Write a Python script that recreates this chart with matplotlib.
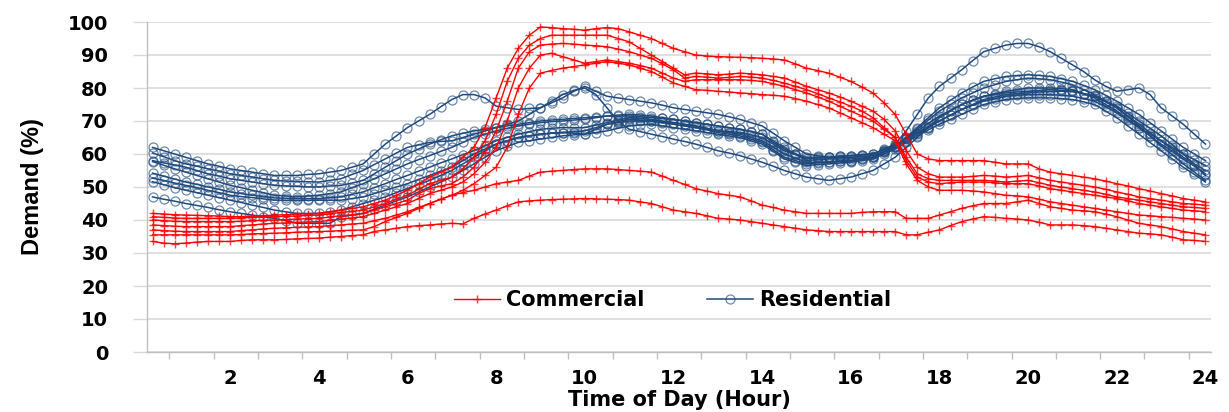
import matplotlib
matplotlib.use("Agg")
import matplotlib.pyplot as plt
import numpy as np

# 15-minute samples over one day (Excel category axis: 96 points)
hours = np.arange(1, 97) / 4

commercial_1 = [42, 41.8, 41.6, 41.5, 41.4, 41.3, 41.2, 41,
                41, 41.2, 41.3, 41.5, 41.6, 41.8, 41.9, 42,
                42.5, 43, 43.5, 44, 45, 46, 47.5, 49,
                51, 53, 54.5, 56, 59, 62, 68, 77,
                86, 92, 96, 98.5, 98.3, 98, 97.8, 97.5,
                98, 98.3, 98, 97, 96, 95, 93.5, 92,
                91, 90, 89.7, 89.5, 89.4, 89.3, 89.2, 89,
                88.8, 88.5, 87.3, 86, 85.3, 84.5, 83.3, 82,
                80.3, 78.5, 75.5, 72, 66, 60, 58.5, 58,
                58, 58, 58, 58, 57.5, 57, 57, 57,
                55.5, 54.5, 54, 53.5, 53, 52.5, 51.8, 51,
                50.3, 49.5, 48.8, 48, 47.3, 46.5, 46, 45.5]
commercial_2 = [41, 40.8, 40.6, 40.5, 40.5, 40.5, 40.5, 40.5,
                40.6, 40.8, 40.9, 41, 41.1, 41.2, 41.4, 41.5,
                41.9, 42.3, 42.6, 43, 44, 45, 46.3, 47.5,
                49.3, 51, 52, 53, 55.5, 59, 64, 72,
                82, 89, 93, 95, 96, 96, 96, 96,
                96, 96, 95, 94, 92, 90, 88, 86,
                84, 84.5, 84.3, 84, 84.2, 84.5, 84.3, 84,
                83.5, 83, 81.8, 80.5, 79.5, 78.5, 77.3, 76,
                74.5, 73, 70.5, 67, 61, 56, 54, 53,
                53, 53, 53.2, 53.5, 53.3, 53, 53.2, 53.5,
                52.8, 52, 51.5, 51, 50.5, 50, 49.3, 48.5,
                47.8, 47, 46.5, 46, 45.5, 45, 44.8, 44.5]
commercial_3 = [40, 39.8, 39.6, 39.5, 39.5, 39.5, 39.5, 39.5,
                39.6, 39.8, 39.9, 40, 40.1, 40.3, 40.4, 40.5,
                40.9, 41.3, 41.6, 42, 43, 44, 45, 46,
                48, 49.5, 50.3, 51, 53, 56, 60.5, 67,
                76, 86, 91, 93, 93.3, 93.5, 93.3, 93,
                92.8, 92.5, 91.8, 91, 90, 89, 87.3, 85.5,
                83, 83.5, 83.3, 83, 83.2, 83.5, 83.3, 83,
                82.3, 81.5, 80.5, 79.5, 78.3, 77, 75.8, 74.5,
                73, 71, 68, 65, 59, 54, 52.5, 52,
                52, 52, 52, 52, 51.8, 51.5, 51.8, 52,
                51.3, 50.5, 50, 49.5, 49, 48.5, 47.8, 47,
                46.5, 46, 45.5, 45, 44.5, 44, 43.8, 43.5]
commercial_4 = [38.5, 38.3, 38.1, 38, 38, 38, 38, 38,
                38.3, 38.5, 38.8, 39, 39.1, 39.3, 39.4, 39.5,
                39.9, 40.3, 40.6, 41, 42, 43, 44, 45,
                46.5, 48, 49, 50, 51.5, 54, 57.5, 62,
                70, 80, 86, 90, 90.5, 89.5, 88.5, 87.5,
                88, 88.5, 88, 87.5, 86.8, 86, 84.5, 83,
                82, 82.5, 82.5, 82.5, 82.5, 82.5, 82.3, 82,
                81.3, 80.5, 79.5, 78.5, 77.3, 76, 74.5, 73,
                71.5, 70, 67.5, 65, 58, 53, 51.5, 51,
                51.3, 51.5, 51.5, 51.5, 51.3, 51, 51, 51,
                50.3, 49.5, 49, 48.5, 48, 47.5, 47, 46.5,
                45.8, 45, 44.5, 44, 43.5, 43, 42.8, 42.5]
commercial_5 = [37, 36.8, 36.6, 36.5, 36.5, 36.5, 36.5, 36.5,
                36.8, 37, 37.3, 37.5, 37.6, 37.8, 37.9, 38,
                38.3, 38.5, 38.8, 39, 39.8, 40.5, 41.5, 42.5,
                43.8, 45, 46.3, 47.5, 49, 51, 53.5, 56,
                62, 72, 80, 84.5, 85.3, 86, 86.5, 87,
                87.5, 88, 87.5, 87, 86, 85, 83.3, 81.5,
                80.5, 79.5, 79.3, 79, 78.8, 78.5, 78.3, 78,
                77.8, 77.5, 76.8, 76, 75, 74, 72.5, 71,
                69.5, 68, 66, 64, 57, 52, 50, 49,
                49, 49, 48.8, 48.5, 48, 47.5, 47.3, 47,
                46.3, 45.5, 45, 44.5, 44, 43.5, 43, 42.5,
                42, 41.5, 41.3, 41, 40.8, 40.5, 40.3, 40]
commercial_6 = [35.5, 35.5, 35.5, 35.5, 35.5, 35.5, 35.5, 35.5,
                35.6, 35.8, 35.9, 36, 36.1, 36.3, 36.4, 36.5,
                36.6, 36.8, 36.9, 37, 38, 39.5, 40.8, 42,
                43.5, 45, 46.3, 47.5, 48.3, 49, 50, 51,
                51.5, 52, 53.3, 54.5, 54.8, 55, 55.3, 55.5,
                55.5, 55.5, 55.3, 55, 54.8, 54.5, 53.3, 52,
                50.8, 49.5, 48.8, 48, 47.5, 47, 45.8, 44.5,
                43.8, 43, 42.5, 42, 42, 42, 42, 42,
                42.3, 42.5, 42.5, 42.5, 40.5, 40.5, 40.5, 41.5,
                42.5, 43.5, 44.3, 45, 45, 45, 45.5, 46,
                45, 44, 43.5, 43, 42.8, 42.5, 41.8, 41,
                40, 39, 38.5, 38, 37.3, 36.5, 36, 35.5]
commercial_7 = [33.5, 33, 32.8, 33, 33.3, 33.5, 33.5, 33.5,
                33.8, 34, 34, 34, 34.1, 34.3, 34.4, 34.5,
                34.8, 35, 35.3, 35.5, 36.5, 37, 37.5, 38,
                38.3, 38.5, 38.8, 39, 38.8, 40.5, 41.8, 43,
                44.3, 45.5, 45.8, 46, 46.2, 46.3, 46.4, 46.5,
                46.4, 46.3, 46.2, 46, 45.5, 45, 44, 43,
                42.5, 42, 41.3, 40.5, 40.3, 40, 39.5, 39,
                38.5, 38, 37.5, 37, 36.8, 36.5, 36.5, 36.5,
                36.5, 36.5, 36.5, 36.5, 35.5, 35.5, 36.3, 37,
                38.3, 39.5, 40.3, 41, 40.8, 40.5, 40.3, 40,
                39.3, 38.5, 38.5, 38.5, 38.3, 38, 37.5, 37,
                36.5, 36, 35.8, 35.5, 34.8, 34, 33.8, 33.5]

residential_1 = [58, 57.3, 56.7, 56, 55, 54, 53.3, 52.5,
                 52, 51.5, 51, 50.5, 50.3, 50.2, 50, 50,
                 50.3, 50.5, 51.2, 52, 54, 56, 58, 60,
                 61.5, 63, 64.3, 65.5, 66.3, 67, 67.5, 68,
                 68.5, 69, 69.5, 70, 70.3, 70.5, 70.8, 71,
                 71.3, 71.5, 71.5, 71.5, 71.3, 71, 70.8, 70.5,
                 70, 69.5, 69, 68.5, 68, 67.5, 66.8, 66,
                 63.5, 61.5, 60, 59, 59, 59, 59.3, 59.5,
                 59.8, 60, 61.5, 63, 67, 72, 77, 80.5,
                 83, 85.5, 88.3, 91, 92, 93, 93.5, 93.5,
                 92.5, 91, 89, 87, 85, 82.5, 80.5, 79,
                 79.5, 80, 78, 74, 71.5, 69, 66, 63]
residential_2 = [62, 61, 60, 59, 58, 57, 56.3, 55.5,
                 55, 54.5, 54, 53.5, 53.5, 53.5, 53.8, 54,
                 54.5, 55, 56, 57, 60, 63, 65.5, 68,
                 70, 72, 74.3, 76.5, 78, 78, 77, 74.5,
                 74, 73.5, 73.8, 74, 75.5, 77, 79, 80.5,
                 79, 77.5, 77, 76.5, 76, 75.5, 74.8, 74,
                 73.5, 73, 72.5, 72, 71.3, 70.5, 69.5, 68.5,
                 66.3, 64, 62, 60, 59.5, 59, 59, 59,
                 59.3, 59.5, 60.8, 62, 65, 68, 71, 74,
                 76.3, 78.5, 80.3, 82, 82.8, 83.5, 83.8, 84,
                 83.8, 83.5, 82.8, 82, 80.8, 79.5, 77.8, 76,
                 74, 72, 69.5, 67, 64.5, 62, 60, 58]
residential_3 = [60.3, 59.2, 58, 57, 56.3, 55.5, 54.8, 54,
                 53.5, 53, 52.5, 52, 51.8, 51.7, 51.6, 51.5,
                 52, 52.5, 53.8, 55, 56.8, 58.5, 60.3, 62,
                 62.8, 63.5, 63.8, 64, 65, 66, 67, 68,
                 69, 70, 72, 74, 76, 78, 79.3, 80,
                 78, 74, 70, 67.5, 66.8, 66, 65.3, 64.5,
                 63.8, 63, 62, 61, 60.3, 59.5, 58.5, 57.5,
                 56.3, 55, 54, 53, 52.5, 52, 52.5, 53,
                 54, 55, 57, 59, 62, 65, 68, 71,
                 73, 75, 76.3, 77.5, 78, 78.5, 78.8, 79,
                 79.3, 79.5, 79.3, 79, 78.3, 77.5, 75.8, 74,
                 71.5, 69, 66.5, 64, 61.5, 59, 57, 55]
residential_4 = [57.7, 56.6, 55.5, 54.5, 53.5, 52.5, 51.5, 50.5,
                 49.8, 49, 48.3, 47.5, 47.3, 47, 47.3, 47.5,
                 48, 48.5, 49.8, 51, 52.5, 54, 55.5, 57,
                 58.3, 59.5, 60.8, 62, 63.5, 65, 66, 67,
                 67.8, 68.5, 69, 69.5, 69.8, 70, 70.3, 70.5,
                 71, 71.5, 71.8, 72, 71.8, 71.5, 71, 70.5,
                 70, 69.5, 69, 68.5, 68, 67.5, 66.8, 66,
                 64, 62, 60, 58, 58.3, 58.5, 58.5, 58.5,
                 58.8, 59, 60.5, 62, 64.8, 67.5, 70.3, 73,
                 75, 77, 78.5, 80, 81, 82, 82.5, 83,
                 82.8, 82.5, 81.8, 81, 79.5, 78, 76, 74,
                 71.3, 68.5, 65.5, 62.5, 59.8, 57, 54.5, 52]
residential_5 = [54.2, 53.3, 52.4, 51.5, 50.8, 50, 49.3, 48.5,
                 48, 47.5, 47.1, 46.7, 46.6, 46.5, 46.5, 46.5,
                 46.8, 47, 47.8, 48.5, 49.8, 51, 52.3, 53.5,
                 54.8, 56, 57.3, 58.5, 59.8, 61, 62.5, 64,
                 65, 66, 66.8, 67.5, 67.8, 68, 68, 68,
                 68.8, 69.5, 70.3, 71, 70.8, 70.5, 70, 69.5,
                 69, 68.5, 67.8, 67, 66.5, 66, 65, 64,
                 62, 60, 58.8, 57.5, 57.5, 57.5, 57.8, 58,
                 58.5, 59, 60.8, 62.5, 64.8, 67, 69.3, 71.5,
                 73.3, 75, 76.3, 77.5, 78.3, 79, 79.5, 80,
                 80, 80, 79.8, 79.5, 78.3, 77, 75, 73,
                 70.5, 68, 65.5, 63, 60.8, 58.5, 56.3, 54]
residential_6 = [52.7, 52, 51.2, 50.5, 49.8, 49, 48.3, 47.5,
                 47.1, 46.8, 46.4, 46, 46, 46, 46, 46,
                 46, 46, 46.5, 47, 48, 49, 50, 51,
                 52.3, 53.5, 54.8, 56, 58, 60, 61.5, 63,
                 64, 65, 65.5, 66, 66.3, 66.5, 66.8, 67,
                 68, 69, 69.5, 70, 70, 70, 69.5, 69,
                 68.5, 68, 67.3, 66.5, 66, 65.5, 64.5, 63.5,
                 61.3, 59, 58, 57, 57.3, 57.5, 57.8, 58,
                 58.5, 59, 60.5, 62, 64, 66, 68, 70,
                 71.8, 73.5, 74.8, 76, 76.8, 77.5, 77.8, 78,
                 78, 78, 77.8, 77.5, 76.8, 76, 74.3, 72.5,
                 70.3, 68, 66, 64, 62, 60, 58.3, 56.5]
residential_7 = [51.6, 50.7, 49.8, 49, 48.3, 47.5, 46.8, 46,
                 45.3, 44.5, 43.8, 43, 42.5, 42, 42, 42,
                 42.5, 43, 44, 45, 46, 47, 48.3, 49.5,
                 50.8, 52, 53.5, 55, 57, 59, 61, 63,
                 64, 65, 65.5, 66, 66.3, 66.5, 66.3, 66,
                 66.5, 67, 67.8, 68.5, 68.8, 69, 68.5, 68,
                 67.5, 67, 66.5, 66, 65.5, 65, 64, 63,
                 60.8, 58.5, 57.5, 56.5, 56.8, 57, 57.3, 57.5,
                 58, 58.5, 60, 61.5, 63.5, 65.5, 67.3, 69,
                 70.5, 72, 73.5, 75, 75.8, 76.5, 76.8, 77,
                 77, 77, 76.8, 76.5, 75.8, 75, 73, 71,
                 68.5, 66, 63.5, 61, 58.5, 56, 53.8, 51.5]
residential_8 = [47, 46.3, 45.7, 45, 44.4, 43.8, 43.1, 42.5,
                 42, 41.5, 41, 40.5, 39.8, 39, 39, 39,
                 39, 41, 41.5, 42, 43.3, 44.5, 45.8, 47,
                 48.5, 50, 51.5, 53, 55, 57, 59, 61,
                 62.3, 63.5, 64, 64.5, 65, 65.5, 65.8, 66,
                 67.5, 69, 69.8, 70.5, 70.3, 70, 69.8, 69.5,
                 69, 68.5, 67.8, 67, 66.8, 66.5, 65.8, 65,
                 63, 61, 59.8, 58.5, 58.8, 59, 59.3, 59.5,
                 59.8, 60, 61.3, 62.5, 64.5, 66.5, 68.3, 70,
                 71.8, 73.5, 75, 76.5, 77.3, 78, 78.3, 78.5,
                 78.8, 79, 79, 79, 78.3, 77.5, 76, 74.5,
                 72.3, 70, 67.8, 65.5, 62.8, 60, 56.8, 53.5]

commercial = [commercial_1, commercial_2, commercial_3, commercial_4,
              commercial_5, commercial_6, commercial_7]
residential = [residential_1, residential_2, residential_3, residential_4,
               residential_5, residential_6, residential_7, residential_8]

x_tick_hours = list(range(2, 25, 2))
y_ticks = list(range(0, 101, 10))

RED = "#ff0000"
BLUE = "#1f497d"
GRID = "#d9d9d9"
AXIS = "#bfbfbf"

fig = plt.figure(figsize=(12.29, 4.12), dpi=100)
ax = fig.add_axes([147 / 1229, 1 - 352 / 412, 1064 / 1229, 330 / 412])

for i, series in enumerate(commercial):
    ax.plot(hours, series, color=RED, lw=1.0, marker="+", ms=6, mew=1.0,
            mec=(1, 0, 0, 0.75), zorder=3,
            label="Commercial" if i == 0 else None)

for i, series in enumerate(residential):
    ax.plot(hours, series, color=BLUE, lw=1.1, marker="o", ms=6.5,
            mfc="none", mec=(0.12, 0.29, 0.49, 0.65), mew=0.9, zorder=2,
            label="Residential" if i == 0 else None)

ax.set_xlim(0.125, 24.125)
ax.set_ylim(0, 100)

ax.set_xticks(x_tick_hours)
ax.set_xticklabels([str(h) for h in x_tick_hours])
ax.set_xticks(np.arange(24) + 0.625, minor=True)
ax.tick_params(axis="x", which="major", length=0, pad=12, labelsize=14)
ax.tick_params(axis="x", which="minor", length=5, width=1, color=AXIS,
               direction="out")

ax.set_yticks(y_ticks)
ax.tick_params(axis="y", length=10, width=1, color=GRID, pad=18, labelsize=14)

for lbl in ax.get_xticklabels() + ax.get_yticklabels():
    lbl.set_fontweight("bold")

ax.yaxis.grid(True, color=GRID, lw=1.2)
ax.set_axisbelow(True)
for side in ["top", "right"]:
    ax.spines[side].set_visible(False)
for side in ["left", "bottom"]:
    ax.spines[side].set_color(AXIS)
    ax.spines[side].set_linewidth(1.0)

ax.set_xlabel("Time of Day (Hour)", fontsize=15, fontweight="bold", labelpad=1.5)
ax.set_ylabel("Demand (%)", fontsize=17, fontweight="bold",
              family=["Liberation Sans Narrow", "DejaVu Sans Condensed",
                      "Liberation Sans"])
ax.yaxis.set_label_coords(-0.097, 0.5)

ax.legend(loc="center", bbox_to_anchor=(0.494, 0.158), ncol=2,
          frameon=False, columnspacing=3.0, handlelength=2.2,
          handletextpad=0.3, prop={"weight": "bold", "size": 15})

fig.savefig("out.png", dpi=100)
